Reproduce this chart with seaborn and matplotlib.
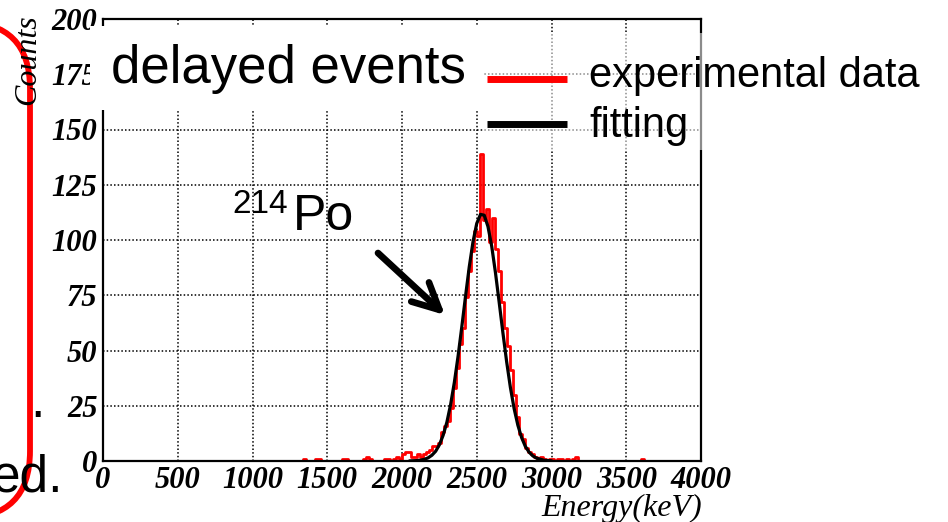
import numpy as np
import pandas as pd
import matplotlib
matplotlib.use("Agg")
import matplotlib.pyplot as plt
import seaborn as sns
from matplotlib.patches import FancyBboxPatch, Rectangle, FancyArrowPatch
from matplotlib.lines import Line2D
from matplotlib.transforms import IdentityTransform
from matplotlib.ticker import MultipleLocator, FixedLocator

# ---------------- data ----------------
# histogram: left edge of 20 keV bins (keV) and counts
bin_left = [1340, 1420, 1440, 1600, 1620, 1740, 1760, 1780, 1880, 1900, 1940, 1960, 1980,
            2000, 2020, 2040, 2060, 2080, 2100, 2120, 2140, 2160, 2180,
            2200, 2220, 2240, 2260, 2280, 2300, 2320, 2340, 2360, 2380,
            2400, 2420, 2440, 2460, 2480, 2500, 2520, 2540, 2560, 2580,
            2600, 2620, 2640, 2660, 2680, 2700, 2720, 2740, 2760, 2780,
            2800, 2820, 2840, 2860, 2880, 2900, 2920, 2940, 2960, 2980,
            3000, 3020, 3040, 3060, 3080, 3100, 3120, 3140, 3160, 3600]
bin_counts = [1, 1, 1, 1, 1, 1, 2, 1, 1, 1, 1, 2, 1,
              3, 4, 4, 2, 2, 3, 2, 3, 4, 5,
              7, 7, 8, 13, 16, 18, 24, 33, 42, 53,
              60, 74, 86, 95, 104, 102, 139, 109, 114, 99,
              110, 96, 86, 72, 60, 52, 41, 30, 20, 12,
              10, 6, 4, 3, 2, 1, 2, 1, 0, 1,
              1, 0, 1, 1, 0, 1, 0, 1, 2, 1]

# fitted curve
fit_energy = [2050, 2100, 2125, 2150, 2175, 2200, 2225, 2250, 2275, 2300, 2325, 2350, 2375,
              2400, 2425, 2450, 2475, 2500, 2525, 2550, 2575, 2600, 2625, 2650, 2675,
              2700, 2725, 2750, 2775, 2800, 2825, 2850, 2875, 2900, 2950, 3000]
fit_counts = [0.05, 0.19, 0.4, 0.77, 1.44, 2.6, 4.4, 7.3, 11.6, 17.5, 25.5, 35.5, 47.4,
              60.7, 74.6, 87.9, 99.2, 107.5, 111.6, 111.2, 106.1, 97.2, 85.3, 71.8, 58.0,
              44.9, 33.3, 23.7, 16.2, 10.6, 6.6, 4.0, 2.3, 1.3, 0.34, 0.08]

x_ticks = [0, 500, 1000, 1500, 2000, 2500, 3000, 3500, 4000]
y_ticks = [0, 25, 50, 75, 100, 125, 150, 175, 200]
x_tick_labels = [str(v) for v in x_ticks]
y_tick_labels = [str(v) for v in y_ticks]

legend_labels = ["experimental data", "fitting"]
panel_title = "delayed events"
peak_mass = "214"
peak_name = "Po"
x_title = "Energy(keV)"
y_title = "Counts"

# ---------------- figure ----------------
W, H = 948, 522
sns.set_style("white")
fig = plt.figure(figsize=(W / 100, H / 100), dpi=100)
fig.patch.set_facecolor("white")


def fx(x):
    return x / W


def fy(y):
    return 1 - y / H


ax_left, ax_right, ax_top, ax_bottom = 103, 701, 19, 461
ax = fig.add_axes([fx(ax_left), fy(ax_bottom), (ax_right - ax_left) / W, (ax_bottom - ax_top) / H])
ax.set_facecolor("white")

hist_df = pd.DataFrame({"energy": np.array(bin_left, dtype=float) + 10.0,
                        "count": np.array(bin_counts, dtype=float)})
sns.histplot(data=hist_df, x="energy", weights="count", binwidth=20, binrange=(0, 4000),
             element="step", fill=False, color="#ff0000", linewidth=2.0, ax=ax)
fit_df = pd.DataFrame({"energy": fit_energy, "count": fit_counts})
sns.lineplot(data=fit_df, x="energy", y="count", color="black", linewidth=2.3, ax=ax, sort=False)

ax.set_xlim(0, 4000)
ax.set_ylim(0, 200)
ax.set_xlabel("")
ax.set_ylabel("")

ax.xaxis.set_major_locator(FixedLocator(x_ticks))
ax.yaxis.set_major_locator(FixedLocator(y_ticks))
ax.set_xticklabels(x_tick_labels)
ax.set_yticklabels(y_tick_labels)
ax.xaxis.set_minor_locator(MultipleLocator(100))
ax.yaxis.set_minor_locator(MultipleLocator(5))

ax.grid(True, which="major", color="black", linestyle=(0, (1, 1.4)), linewidth=1.1)
ax.set_axisbelow(True)

ax.tick_params(axis="x", which="major", direction="in", length=9.5, width=1.4, pad=3.5)
ax.tick_params(axis="x", which="minor", direction="in", length=5, width=1.2)
ax.tick_params(axis="y", which="major", direction="in", length=11, width=1.4, pad=4)
ax.tick_params(axis="y", which="minor", direction="in", length=5.8, width=1.2)
for lab in ax.get_xticklabels() + ax.get_yticklabels():
    lab.set_fontfamily("Liberation Serif")
    lab.set_fontweight("bold")
    lab.set_fontstyle("italic")
    lab.set_fontsize(22)
    lab.set_color("black")

for s in ax.spines.values():
    s.set_visible(True)
    s.set_color("black")
    s.set_linewidth(1.6)

# ---------------- slide decorations ----------------
rbox = FancyBboxPatch((-300, H - 518), 330, 496, boxstyle="round,pad=0,rounding_size=67",
                      transform=IdentityTransform(), facecolor="none", edgecolor="#ff0000",
                      linewidth=4.2, zorder=1)
fig.add_artist(rbox)
fig.text(fx(-8), fy(492), "ed.", fontsize=37, family="Liberation Sans", va="baseline",
         ha="left", color="black", zorder=2)
fig.text(fx(30.5), fy(417), ".", fontsize=37, family="Liberation Sans", va="baseline",
         ha="left", color="black", zorder=2)

# opaque text box over the top-left of the frame
fig.add_artist(Rectangle((fx(90), fy(110)), (483 - 90) / W, (110 - 26) / H,
                         transform=fig.transFigure, facecolor="white", edgecolor="none", zorder=5))
# translucent legend box
fig.add_artist(Rectangle((fx(483), fy(150)), (W - 483) / W, (150 - 33) / H,
                         transform=fig.transFigure, facecolor="white", edgecolor="none",
                         alpha=0.55, zorder=5))

fig.text(fx(111), fy(83), panel_title, fontsize=38, family="Liberation Sans", va="baseline",
         ha="left", color="black", zorder=6)

leg_y = [79, 124]
leg_text_y = [87, 137]
leg_colors = ["#ff0000", "black"]
for lab, ly, ty, c in zip(legend_labels, leg_y, leg_text_y, leg_colors):
    fig.add_artist(Line2D([fx(487), fx(567)], [fy(ly), fy(ly)], transform=fig.transFigure,
                          color=c, linewidth=5, solid_capstyle="butt", zorder=6))
    fig.text(fx(589), fy(ty), lab, fontsize=30, family="Liberation Sans", va="baseline",
             ha="left", color="black", zorder=6)

fig.text(fx(232), fy(213), peak_mass, fontsize=24, family="Liberation Sans", va="baseline",
         ha="left", color="black", zorder=6)
fig.text(fx(293), fy(230), peak_name, fontsize=36, family="Liberation Sans", va="baseline",
         ha="left", color="black", zorder=6)

arrow = FancyArrowPatch((fx(378), fy(253)), (fx(445), fy(315)), transform=fig.transFigure,
                        arrowstyle="->,head_length=0.95,head_width=0.47", mutation_scale=20,
                        linewidth=4.8, color="black", capstyle="round", joinstyle="round",
                        shrinkA=0, shrinkB=0, zorder=6)
fig.add_artist(arrow)

fig.text(fx(28), fy(14), y_title, rotation=90, ha="center", va="top", fontsize=23,
         family="Liberation Serif", style="italic", color="black", zorder=7)
fig.text(fx(702), fy(516), x_title, ha="right", va="baseline", fontsize=23,
         family="Liberation Serif", style="italic", color="black", zorder=7)

fig.savefig("out.png", dpi=100, facecolor="white")
